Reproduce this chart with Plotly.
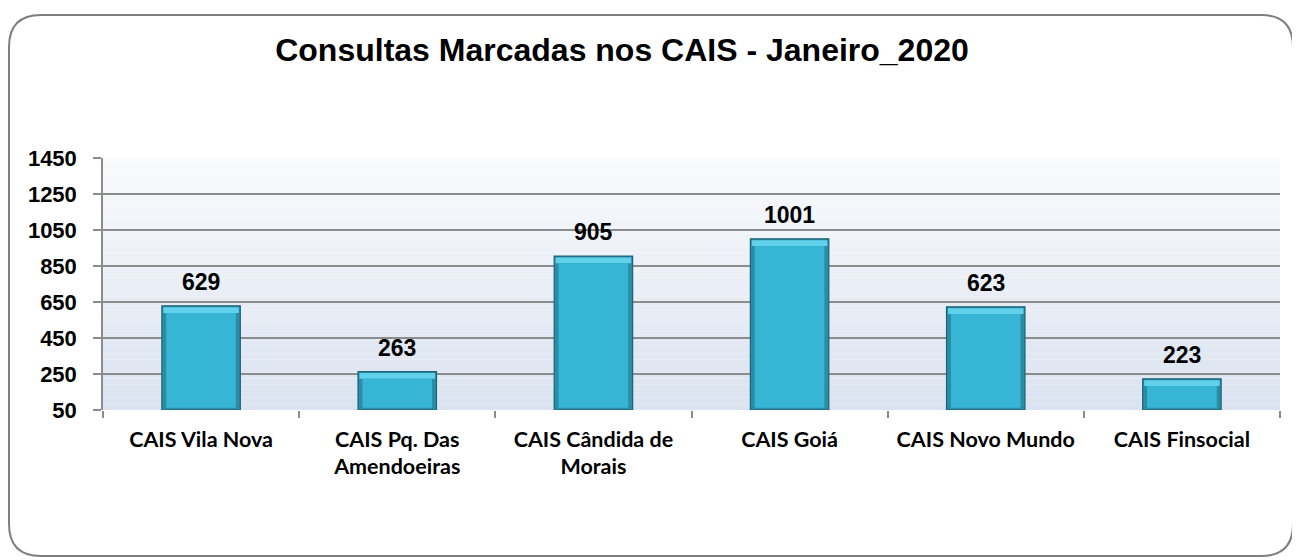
import plotly.graph_objects as go

categories = ["CAIS Vila Nova", "CAIS Pq. Das<br>Amendoeiras", "CAIS Cândida de<br>Morais",
              "CAIS Goiá", "CAIS Novo Mundo", "CAIS Finsocial"]
values = [629, 263, 905, 1001, 623, 223]
y_ticks = [50, 250, 450, 650, 850, 1050, 1250, 1450]
title_text = "Consultas Marcadas nos CAIS - Janeiro_2020"

# page body has an 8px default margin; figure is sized/shifted to compensate
OFF = 8
W, H = 1300 - OFF, 560 - OFF
ML, MR, MT, MB = 103 - OFF, 20, 158 - OFF, 150
PW, PH = W - ML - MR, H - MT - MB

def px(x):
    return (x - OFF - ML) / PW

def py(y):
    return 1 - (y - OFF - MT) / PH

fig = go.Figure()

base = y_ticks[0]
cap = 40
# outer dark edge
fig.add_trace(go.Bar(x=categories, y=[v - base for v in values], base=base, width=0.4,
                     marker=dict(color="#2a8ca6", line=dict(color="#1d6477", width=1.2)),
                     hoverinfo="skip", showlegend=False))
# top bevel
fig.add_trace(go.Bar(x=categories, y=[cap - 8 for v in values], base=[v - cap for v in values], width=0.385,
                     marker=dict(color="#62d2ec", line=dict(width=0)),
                     hoverinfo="skip", showlegend=False))
# inner body
fig.add_trace(go.Bar(x=categories, y=[v - base - cap - 12 for v in values], base=base + 12, width=0.355,
                     marker=dict(color="#37b5d5", line=dict(width=0)),
                     hoverinfo="skip", showlegend=False))

for c, v in zip(categories, values):
    fig.add_annotation(x=c, y=v, text=f"<b>{v}</b>", showarrow=False, yanchor="bottom", yshift=9,
                       font=dict(family="Liberation Sans, Arial", size=23, color="#000000"))

# plot background gradient
n = 40
top_c = (249, 250, 252)
bot_c = (219, 227, 240)
for i in range(n):
    t = i / (n - 1)
    col = tuple(int(round(top_c[k] + (bot_c[k] - top_c[k]) * t)) for k in range(3))
    fig.add_shape(type="rect", xref="x domain", yref="y domain", x0=0, x1=1,
                  y0=1 - (i + 1) / n, y1=1 - i / n, layer="below",
                  line=dict(width=0), fillcolor=f"rgb{col}")

# outer rounded frame (page pixel coordinates)
L, T, R, B, r = 9, 15, 1293, 556, 32
path = (f"M {px(L+r)},{py(T)} L {px(R-r)},{py(T)} Q {px(R)},{py(T)} {px(R)},{py(T+r)} "
        f"L {px(R)},{py(B-r)} Q {px(R)},{py(B)} {px(R-r)},{py(B)} "
        f"L {px(L+r)},{py(B)} Q {px(L)},{py(B)} {px(L)},{py(B-r)} "
        f"L {px(L)},{py(T+r)} Q {px(L)},{py(T)} {px(L+r)},{py(T)} Z")
fig.add_shape(type="path", xref="paper", yref="paper", path=path,
              line=dict(color="#7f7f7f", width=2), fillcolor="rgba(0,0,0,0)", layer="above")

fig.update_layout(
    width=W, height=H,
    margin=dict(l=ML, r=MR, t=MT, b=MB),
    paper_bgcolor="#ffffff",
    plot_bgcolor="#ffffff",
    barmode="overlay",
    title=dict(text=f"<b>{title_text}</b>", xref="container", yref="container",
               x=(622 - OFF) / W, y=1 - (50 - OFF) / H, xanchor="center", yanchor="middle",
               font=dict(family="Liberation Sans, Arial", size=32, color="#000000")),
    showlegend=False,
)
fig.update_yaxes(range=[50, 1450], tickvals=y_ticks, ticktext=[str(t) for t in y_ticks],
                 showgrid=True, gridcolor="#8c8c8c", gridwidth=1.5,
                 showline=True, linecolor="#8c8c8c", linewidth=1.5,
                 ticks="outside", ticklen=8, tickcolor="#8c8c8c", tickwidth=1.5,
                 ticklabelstandoff=12, zeroline=False,
                 tickfont=dict(family="Liberation Sans, Arial", size=22, color="#000000", weight="bold"))
fig.update_xaxes(showgrid=False, showline=False,
                 ticks="outside", ticklen=7, tickcolor="#8c8c8c", tickwidth=1.5,
                 tickson="boundaries", ticklabelstandoff=14,
                 tickfont=dict(family="Lato", size=21.5, color="#000000", weight="bold"))

fig.write_html("out.html")
